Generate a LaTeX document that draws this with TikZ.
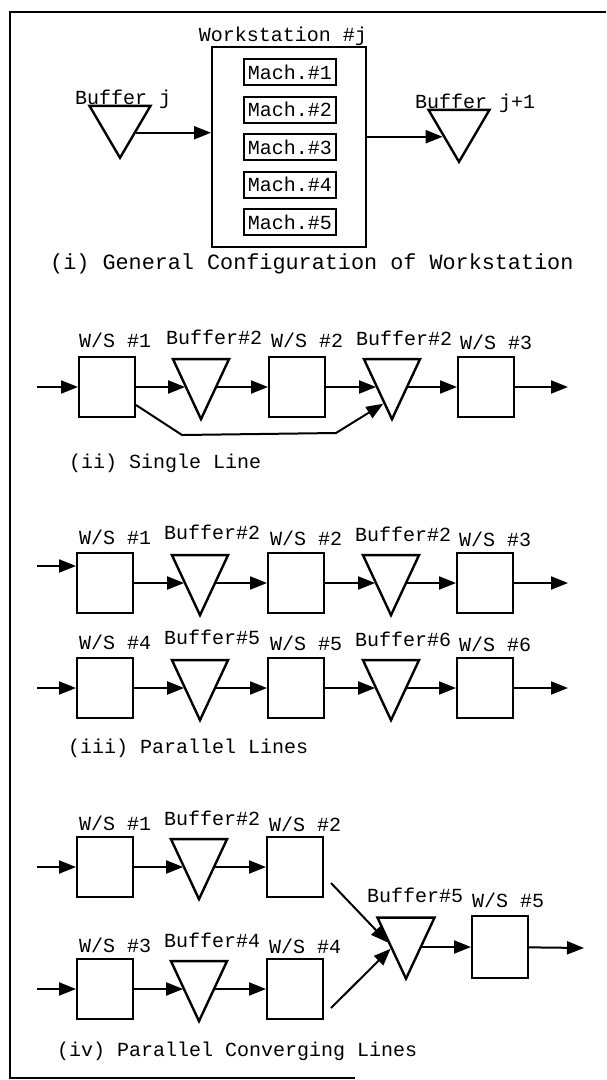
\documentclass[tikz,border=0pt]{standalone}
\usepackage{fontspec}
\setmonofont{Liberation Mono}
\usetikzlibrary{arrows.meta, shapes.geometric}

\begin{document}
\begin{tikzpicture}[x=1pt, y=-1pt,
  ws/.style={draw, line width=2pt, minimum width=56pt, minimum height=60pt, inner sep=0pt},
  mach/.style={draw, line width=2pt, minimum width=92pt, minimum height=26pt, inner sep=0pt, font=\ttfamily\fontsize{20}{24}\selectfont},
  % centre of the triangle shape sits at 1/3 of its height, yshift puts the middle on the row
  buf/.style={draw, line width=2.4pt, isosceles triangle, isosceles triangle stretches,
    shape border rotate=-90, minimum width=56pt, minimum height=60pt, inner sep=0pt, yshift=10pt},
  arr/.style={line width=2pt, -{Triangle[length=17pt, width=13pt]}},
  txt/.style={font=\ttfamily\fontsize{20}{24}\selectfont, inner sep=0pt, anchor=base west}]
  \useasboundingbox (0,0) rectangle (606,1080);

  % frame
  \draw[line width=1.6pt] (606,12) -- (10,12) -- (10,1078) -- (355,1078);

  % (i) general configuration
  \node[draw, line width=2pt, minimum width=154pt, minimum height=200pt] (ws) at (289,147) {};
  \node[txt, anchor=base] (wsl) at (283,41) {Workstation \#j};
  \foreach \k in {1,...,5}
    \node[mach] (m\k) at (290,{72+37.5*(\k-1)}) {Mach.\#\k};
  \node[buf, minimum width=61pt, minimum height=52pt, yshift=-1.3pt] (bj) at (120,132) {};
  \node[buf, minimum width=61pt, minimum height=52pt, yshift=-1.3pt] (bk) at (459,136) {};
  \node[txt] (bjl) at (75,104) {Buffer j};
  \node[txt] (bkl) at (415,108) {Buffer j+1};
  \draw[arr] (bj.330) -- (bj.330 -| ws.west);
  \draw[arr] (ws.east |- bk.210) -- (bk.210);
  \node[txt, font=\ttfamily\fontsize{21.8}{24}\selectfont] (c1) at (50,269) {(i) General Configuration of Workstation};

  % (ii) single line
  \coordinate (ai) at (37,387);
  \coordinate (ao) at (568,387);
  \node[ws]  (a1) at (107,387) {};
  \node[buf] (a2) at (201,387) {};
  \node[ws]  (a3) at (297,387) {};
  \node[buf] (a4) at (392,387) {};
  \node[ws]  (a5) at (486,387) {};
  \node[txt] (a1l) at (79,347) {W/S \#1};
  \node[txt] (a2l) at (166,344) {Buffer\#2};
  \node[txt] (a3l) at (271,347) {W/S \#2};
  \node[txt] (a4l) at (356,345) {Buffer\#2};
  \node[txt] (a5l) at (460,349) {W/S \#3};
  \draw[arr] (ai) -- (a1);
  \draw[arr] (a1) -- (a1 -| a2.215);
  \draw[arr] (a2.325 |- a3) -- (a3);
  \draw[arr] (a3) -- (a3 -| a4.215);
  \draw[arr] (a4.325 |- a5) -- (a5);
  \draw[arr] (a5) -- (ao);
  \draw[arr] ([yshift=13pt]a1.south east) -- ++(46,30) -- (336,433) -- (a4.252);
  \node[txt] (c2) at (69,468) {(ii) Single Line};

  % (iii) parallel lines
  \foreach \r/\y/\iy/\la/\lb/\lc/\ld/\le in {p/583/566/1/2/2/2/3, q/688/688/4/5/5/6/6} {
    \coordinate (\r i) at (37,\iy);
    \coordinate (\r o) at (568,\y);
    \node[ws]  (\r1) at (105,\y) {};
    \node[buf] (\r2) at (200,\y) {};
    \node[ws]  (\r3) at (296,\y) {};
    \node[buf] (\r4) at (391,\y) {};
    \node[ws]  (\r5) at (485,\y) {};
    \node[txt] (\r1l) at (79,\y-39) {W/S \#\la};
    \node[txt] (\r2l) at (164,\y-44) {Buffer\#\lb};
    \node[txt] (\r3l) at (270,\y-38) {W/S \#\lc};
    \node[txt] (\r4l) at (355,\y-42) {Buffer\#\ld};
    \node[txt] (\r5l) at (459,\y-37) {W/S \#\le};
    \draw[arr] (\r i) -- (\r i -| \r1.west);
    \draw[arr] (\r1) -- (\r1 -| \r2.215);
    \draw[arr] (\r2.325 |- \r3) -- (\r3);
    \draw[arr] (\r3) -- (\r3 -| \r4.215);
    \draw[arr] (\r4.325 |- \r5) -- (\r5);
    \draw[arr] (\r5) -- (\r o);
  }
  \node[txt] (c3) at (68,753) {(iii) Parallel Lines};

  % (iv) parallel converging lines
  \foreach \r/\y/\la/\lb/\lc in {s/867/1/2/2, t/989/3/4/4} {
    \coordinate (\r i) at (37,\y);
    \node[ws]  (\r1) at (105,\y) {};
    \node[buf] (\r2) at (199,\y) {};
    \node[ws]  (\r3) at (295,\y) {};
    \node[txt] (\r1l) at (79,\y-37) {W/S \#\la};
    \node[txt] (\r2l) at (164,\y-42) {Buffer\#\lb};
    \node[txt] (\r3l) at (269,\y-36) {W/S \#\lc};
    \draw[arr] (\r i) -- (\r1);
    \draw[arr] (\r1) -- (\r1 -| \r2.215);
    \draw[arr] (\r2.325 |- \r3) -- (\r3);
  }
  \coordinate (vo) at (584,948);
  \node[buf, minimum width=57pt, minimum height=61pt, yshift=0.2pt] (v1) at (406,946) {};
  \node[ws, minimum height=62pt] (v2) at (500,947) {};
  \node[txt] (v1l) at (367,902) {Buffer\#5};
  \node[txt] (v2l) at (472,907) {W/S \#5};
  \draw[arr] ([xshift=7pt, yshift=15pt]s3.south east) -- (v1.200);
  \draw[arr] ([xshift=7pt, yshift=12pt]t3.south east) -- (v1.220);
  \draw[arr] (v1.325 |- v2) -- (v2);
  \draw[arr] (v2) -- (vo);
  \node[txt] (c4) at (57,1056) {(iv) Parallel Converging Lines};
\end{tikzpicture}
\end{document}
